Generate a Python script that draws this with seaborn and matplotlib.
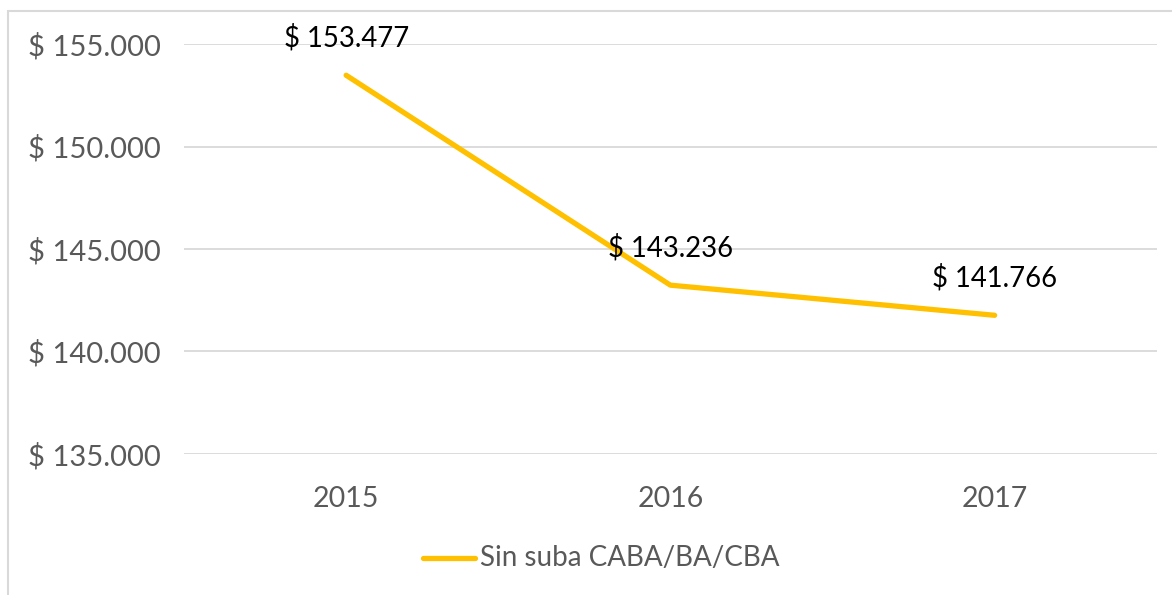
import pandas as pd
import matplotlib
matplotlib.use("Agg")
import matplotlib.pyplot as plt
import seaborn as sns

anios = ["2015", "2016", "2017"]
valores = [153477, 143236, 141766]
serie = "Sin suba CABA/BA/CBA"

df = pd.DataFrame({"anio": anios, "valor": valores, "serie": serie})

sns.set_theme(style="white")
plt.rcParams["font.family"] = ["Lato", "DejaVu Sans"]

def pesos(v):
    # formato argentino: $ 155.000
    return "$ " + f"{int(round(v)):,}".replace(",", ".")

fig = plt.figure(figsize=(11.72, 5.95), dpi=100)
ax = fig.add_axes([0.157, 0.237, 0.830, 0.689])

sns.lineplot(data=df, x="anio", y="valor", hue="serie", palette=["#FFC000"],
             linewidth=3.8, ax=ax, solid_capstyle="round", legend=False)

ax.set_xlim(-0.5, 2.5)
ax.set_ylim(135000, 155000)
ax.set_yticks([135000, 140000, 145000, 150000, 155000])
ax.set_yticklabels([pesos(t) for t in ax.get_yticks()])
ax.grid(axis="y", color="#D9D9D9", linewidth=1.3)
ax.set_axisbelow(True)
for s in ax.spines.values():
    s.set_visible(False)
ax.tick_params(axis="y", length=0, pad=17, labelsize=21, labelcolor="#595959")
ax.tick_params(axis="x", length=0, pad=23, labelsize=20.5, labelcolor="#595959")
ax.set_xlabel("")
ax.set_ylabel("")

for i, v in enumerate(valores):
    ax.annotate(pesos(v), (i, v), xytext=(0, 27), textcoords="offset points",
                ha="center", va="center", fontsize=19.8, color="black")

# leyenda abajo
fig.lines.append(plt.Line2D([423 / 1172, 475 / 1172], [1 - 558 / 595] * 2,
                            transform=fig.transFigure, color="#FFC000",
                            linewidth=3.8, solid_capstyle="round"))
fig.text(480 / 1172, 1 - 558 / 595, serie, ha="left", va="center",
         fontsize=20, color="#595959")

# borde del area del grafico
fig.patches.append(plt.Rectangle((8 / 1172, -0.1), 1.2, 1 - 11 / 595 + 0.1,
                                 transform=fig.transFigure, fill=False,
                                 edgecolor="#D9D9D9", linewidth=1.5))

fig.savefig("out.png", dpi=100, facecolor="white")
